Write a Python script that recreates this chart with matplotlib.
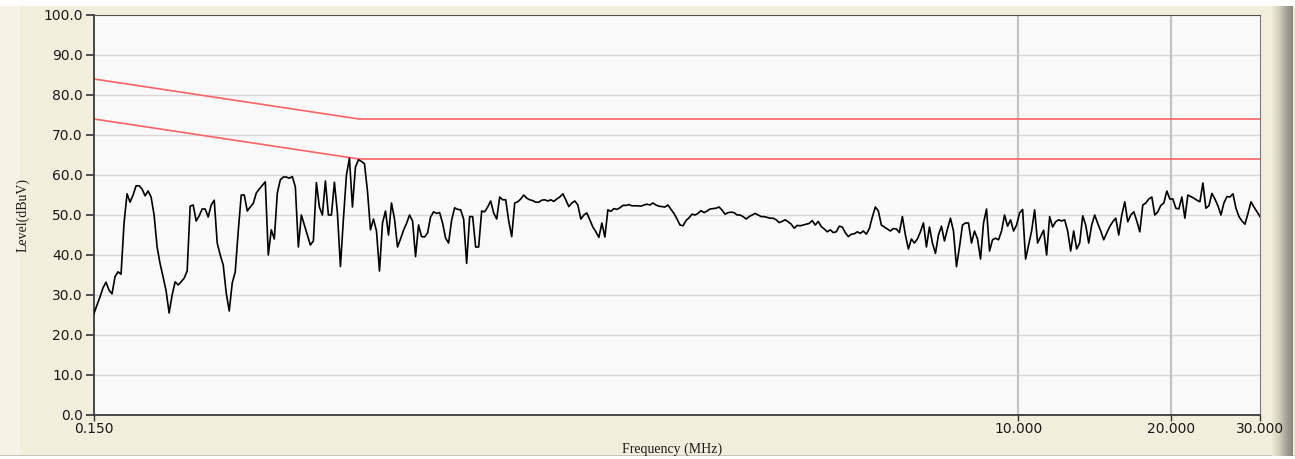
import numpy as np
import matplotlib.pyplot as plt
from matplotlib.patches import Rectangle
from matplotlib.ticker import NullLocator

# measured level (dBuV), log-spaced sweep 0.15 - 30 MHz
level = [
    25.4, 27.5, 29.5, 31.8, 33.2, 31.2, 30.3, 34.6, 35.8, 35.2,
    48.0, 55.3, 53.2, 55.0, 57.3, 57.3, 56.5, 54.8, 56.0, 54.5,
    50.0, 42.0, 37.8, 34.5, 31.0, 25.5, 30.0, 33.3, 32.5, 33.3,
    34.2, 36.0, 52.2, 52.5, 48.5, 49.8, 51.5, 51.5, 49.5, 52.5,
    53.7, 43.0, 40.0, 37.5, 30.5, 26.0, 33.0, 35.8, 46.0, 55.0,
    55.0, 51.0, 52.0, 52.9, 55.5, 56.5, 57.4, 58.3, 40.0, 46.3,
    44.0, 55.5, 58.8, 59.5, 59.5, 59.2,
    59.6, 57.0, 42.0, 50.0, 47.5, 45.0, 42.5, 43.5, 58.1, 52.0,
    50.0, 58.5, 50.0, 50.0, 58.2, 50.5, 37.1, 49.0, 60.0, 64.2,
    52.0, 62.0, 63.8, 63.4, 62.8, 56.0, 46.3, 49.0, 46.0, 36.0,
    48.0, 51.0, 45.0, 53.0, 49.0, 42.0, 44.0, 46.2, 47.9, 50.0,
    48.5, 39.6, 47.5, 44.6, 44.5, 45.5, 49.5, 50.8, 50.4, 50.6,
    48.0, 44.2, 43.0, 48.7, 51.8, 51.4, 51.3, 49.0, 37.9, 49.6,
    49.6, 42.0, 42.0, 51.0,
    50.8, 52.0, 53.5, 50.5, 49.0, 54.5, 53.8, 53.8, 48.5, 44.6,
    53.0, 53.3, 54.0, 55.0, 54.2, 53.8, 53.6, 53.2, 53.2, 53.7,
    53.8, 53.5, 53.8, 53.4, 54.0, 54.5, 55.3, 53.8, 52.1, 53.0,
    53.5, 52.5, 49.0, 50.0, 50.5, 48.8, 47.0, 45.8, 44.4, 48.0,
    44.5, 51.3, 50.9, 51.6, 51.4, 51.8, 52.4, 52.4, 52.6, 52.3,
    52.3, 52.3, 52.2, 52.5, 52.7, 52.5, 53.0, 52.5, 52.2, 52.1,
    52.0, 52.5, 51.4, 50.4, 49.0,
    47.5, 47.3, 48.6, 49.3, 50.2, 50.0, 50.4, 51.1, 50.6, 51.0,
    51.5, 51.6, 51.7, 52.0, 51.2, 50.2, 50.6, 50.7, 50.6, 50.0,
    50.0, 49.6, 49.0, 49.6, 50.0, 50.4, 50.0, 49.6, 49.6, 49.4,
    49.2, 49.2, 48.8, 48.1, 48.4, 48.8, 48.3, 47.7, 46.7, 47.4,
    47.3, 47.5, 47.7, 47.9, 48.6, 47.5, 48.4, 47.1, 46.5, 45.8,
    46.3, 45.6, 45.8, 47.2, 47.0, 45.6, 44.6, 45.2, 45.3, 45.8,
    45.4, 46.0, 45.2, 46.6, 49.5,
    52.0, 51.0, 47.5, 47.0, 46.5, 46.0, 46.6, 46.5, 45.6, 49.6,
    45.0, 41.5, 44.0, 43.0, 44.0, 45.8, 48.0, 42.0, 47.0, 43.0,
    40.4, 45.0, 47.2, 43.5, 46.5, 49.2, 46.0, 37.1, 42.0, 47.5,
    48.0, 48.0, 43.0, 46.0, 44.0, 39.0, 48.0, 51.5, 41.0, 43.8,
    44.2, 43.8, 46.0, 50.0, 47.2, 48.8, 46.0, 47.5, 50.5, 51.4,
    39.0, 42.5, 46.0, 51.3, 43.0, 44.6, 46.2, 40.0, 49.6, 47.0,
    48.3, 48.8, 48.5, 48.8, 46.0,
    41.0, 46.0, 41.5, 43.0, 49.8, 47.5, 43.0, 47.5, 50.0, 47.9,
    46.0, 43.8, 45.5, 47.1, 48.3, 49.2, 45.0, 50.0, 53.3, 48.3,
    50.0, 50.8, 48.5, 45.8, 52.5, 53.0, 54.0, 54.5, 50.0, 50.8,
    52.4, 53.0, 56.0, 54.0, 54.0, 51.7, 51.5, 54.5, 49.2, 55.0,
    54.6, 54.2, 53.7, 53.3, 58.0, 51.7, 52.3, 55.4, 54.0, 52.3,
    50.0, 53.0, 54.6, 54.5, 55.3, 51.7, 49.6, 48.5, 47.7, 50.4,
    53.3, 52.0, 50.8, 49.6,
]
freq = np.geomspace(0.15, 30, len(level))

limit_freq = [0.15, 0.5, 30]
limit_upper = [84, 74, 74]
limit_lower = [74, 64, 64]

xticks = [0.15, 10, 20, 30]
xticklabels = ["0.150", "10.000", "20.000", "30.000"]
yticks = list(range(0, 101, 10))
yticklabels = [f"{v:.1f}" for v in yticks]

W, H = 1295, 459
fig = plt.figure(figsize=(W / 100, H / 100), dpi=100, facecolor="#F1EEDC")

# window-like frame bits (behind the axes)
fig.patches.append(Rectangle((0, 1 - 6 / H), 1, 6 / H, transform=fig.transFigure,
                             facecolor="white", edgecolor="none", zorder=-5))
fig.patches.append(Rectangle((0, 0), 20 / W, 1 - 6 / H, transform=fig.transFigure,
                             facecolor="#F6F3E6", edgecolor="none", zorder=-5))
fig.patches.append(Rectangle((0, 0), 1, 3 / H, transform=fig.transFigure,
                             facecolor="white", edgecolor="none", zorder=-5))
fig.patches.append(Rectangle((0, 3 / H), 1, 1 / H, transform=fig.transFigure,
                             facecolor="#C8C6BC", edgecolor="none", zorder=-5))

bar = fig.add_axes([1272 / W, 3 / H, 21 / W, 1 - 9 / H])
grad = np.linspace(0, 1, 64).reshape(1, -1)
bar.imshow(grad, aspect="auto", cmap=plt.matplotlib.colors.LinearSegmentedColormap.from_list(
    "edge", ["#EEEAD6", "#D4D0BE", "#A8A69A", "#86857C"]))
bar.axis("off")

ax = fig.add_axes([94 / W, 44 / H, 1166 / W, 400 / H])
ax.set_facecolor("#F9F9F9")

ax.set_xscale("log")
ax.set_xlim(0.15, 30)
ax.set_ylim(0, 100)

for y in yticks[1:-1]:
    ax.axhline(y, color="#D9D9D9", lw=1.0, zorder=1)
for x in [10, 20]:
    ax.axvline(x, color="#C3C3C3", lw=1.6, zorder=1)

ax.plot(limit_freq, limit_upper, color="#FF6262", lw=1.2, zorder=2)
ax.plot(limit_freq, limit_lower, color="#FF6262", lw=1.2, zorder=2)
ax.plot(freq, level, color="black", lw=1.2, zorder=3)

ax.set_xticks(xticks)
ax.set_xticklabels(xticklabels)
ax.xaxis.set_minor_locator(NullLocator())
ax.set_yticks(yticks)
ax.set_yticklabels(yticklabels)

ax.tick_params(axis="y", direction="out", length=6, width=1.2, color="#303030",
               pad=2, labelsize=10, labelcolor="#1A1A1A")
ax.tick_params(axis="x", direction="out", length=4, width=1.0, color="#303030",
               pad=1, labelsize=10, labelcolor="#1A1A1A")

for side in ["left", "bottom"]:
    ax.spines[side].set_color("#3A3A3A")
    ax.spines[side].set_linewidth(1.3)
ax.spines["top"].set_color("#505050")
ax.spines["right"].set_color("#7A7A7A")

ax.set_xlabel("Frequency (MHz)", family="Liberation Serif", fontsize=10, color="#1A1A1A")
ax.xaxis.set_label_coords(0.496, -0.068)
ax.set_ylabel("Level(dBuV)", family="Liberation Serif", fontsize=10, color="#1A1A1A")
ax.yaxis.set_label_coords(-0.055, 0.5)

fig.savefig("out.png", dpi=100, facecolor=fig.get_facecolor())
